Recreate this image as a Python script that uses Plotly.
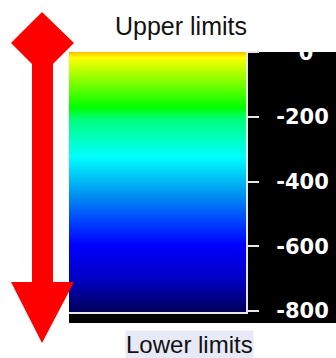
import plotly.graph_objects as go

# ---- data ----
tick_values = [0, -200, -400, -600, -800]
tick_labels = ["\u2007\u20080", "-200", "-400", "-600", "-800"]
bar_columns = [0, 1]
top_label = "Upper limits"
bottom_label = "Lower limits"

colorscale = [
    [0.000, "#00005A"],
    [0.024, "#000070"],
    [0.120, "#0000C0"],
    [0.256, "#0000FF"],
    [0.345, "#0040FF"],
    [0.450, "#0090F0"],
    [0.598, "#00FFFF"],
    [0.740, "#00FF80"],
    [0.788, "#00FF00"],
    [0.934, "#C0FF00"],
    [0.980, "#FFFF00"],
    [1.000, "#FFC400"],
]

W, H = 336, 358
L, R, T, B = 69, 246, 52, 312


def px(x):
    return (x - L) / (R - L)


def py(y):
    return (B - y) / (B - T)


fig = go.Figure(
    go.Heatmap(
        x=bar_columns,
        y=tick_values,
        z=[[v for _ in bar_columns] for v in tick_values],
        zmin=min(tick_values),
        zmax=max(tick_values),
        colorscale=colorscale,
        zsmooth="best",
        showscale=False,
        hoverinfo="skip",
    )
)

arrow_pts = [(42, 12), (74, 43), (53, 64), (53, 282), (74, 282), (42, 343),
             (11, 282), (32, 282), (32, 64), (11, 43)]
path = "M " + " L ".join(f"{px(x):.4f},{py(y):.4f}" for x, y in arrow_pts) + " Z"

fig.update_layout(
    width=W,
    height=H,
    margin=dict(l=L, r=W - R, t=T, b=H - B, pad=0),
    paper_bgcolor="white",
    plot_bgcolor="black",
    showlegend=False,
    xaxis=dict(
        range=[-0.5, 1.5],
        showgrid=False,
        zeroline=False,
        showticklabels=False,
        ticks="",
        showline=True,
        linecolor="#E6E6E6",
        linewidth=2,
        fixedrange=True,
    ),
    yaxis=dict(
        range=[-803, 1],
        side="right",
        tickvals=tick_values,
        ticktext=tick_labels,
        ticks="outside",
        ticklen=11,
        tickwidth=2,
        tickcolor="#E6E6E6",
        ticklabelstandoff=13,
        tickfont=dict(family="DejaVu Sans", size=21, color="white", weight="bold"),
        showgrid=False,
        zeroline=False,
        showline=True,
        linecolor="#E6E6E6",
        linewidth=2,
        fixedrange=True,
        automargin=False,
    ),
    shapes=[
        dict(type="rect", xref="paper", yref="paper", layer="below",
             x0=px(L), x1=px(W), y0=py(323), y1=py(T),
             fillcolor="black", line=dict(width=0)),
        dict(type="path", xref="paper", yref="paper", path=path,
             fillcolor="#FF0000", line=dict(width=0), layer="above"),
    ],
    annotations=[
        dict(text=top_label, xref="paper", yref="paper", x=px(180.5), y=py(26),
             xanchor="center", yanchor="middle", showarrow=False,
             font=dict(family="Liberation Sans", size=25, color="#111111")),
        dict(text=bottom_label, xref="paper", yref="paper", x=px(189), y=py(344),
             xanchor="center", yanchor="middle", showarrow=False,
             bgcolor="#E7EAF6", borderpad=0,
             font=dict(family="Liberation Sans", size=24, color="#111111")),
    ],
)

fig.write_html(
    "out.html",
    config={"displayModeBar": False, "staticPlot": True},
    post_script="document.body.style.margin='0';document.body.style.overflow='hidden';",
)
